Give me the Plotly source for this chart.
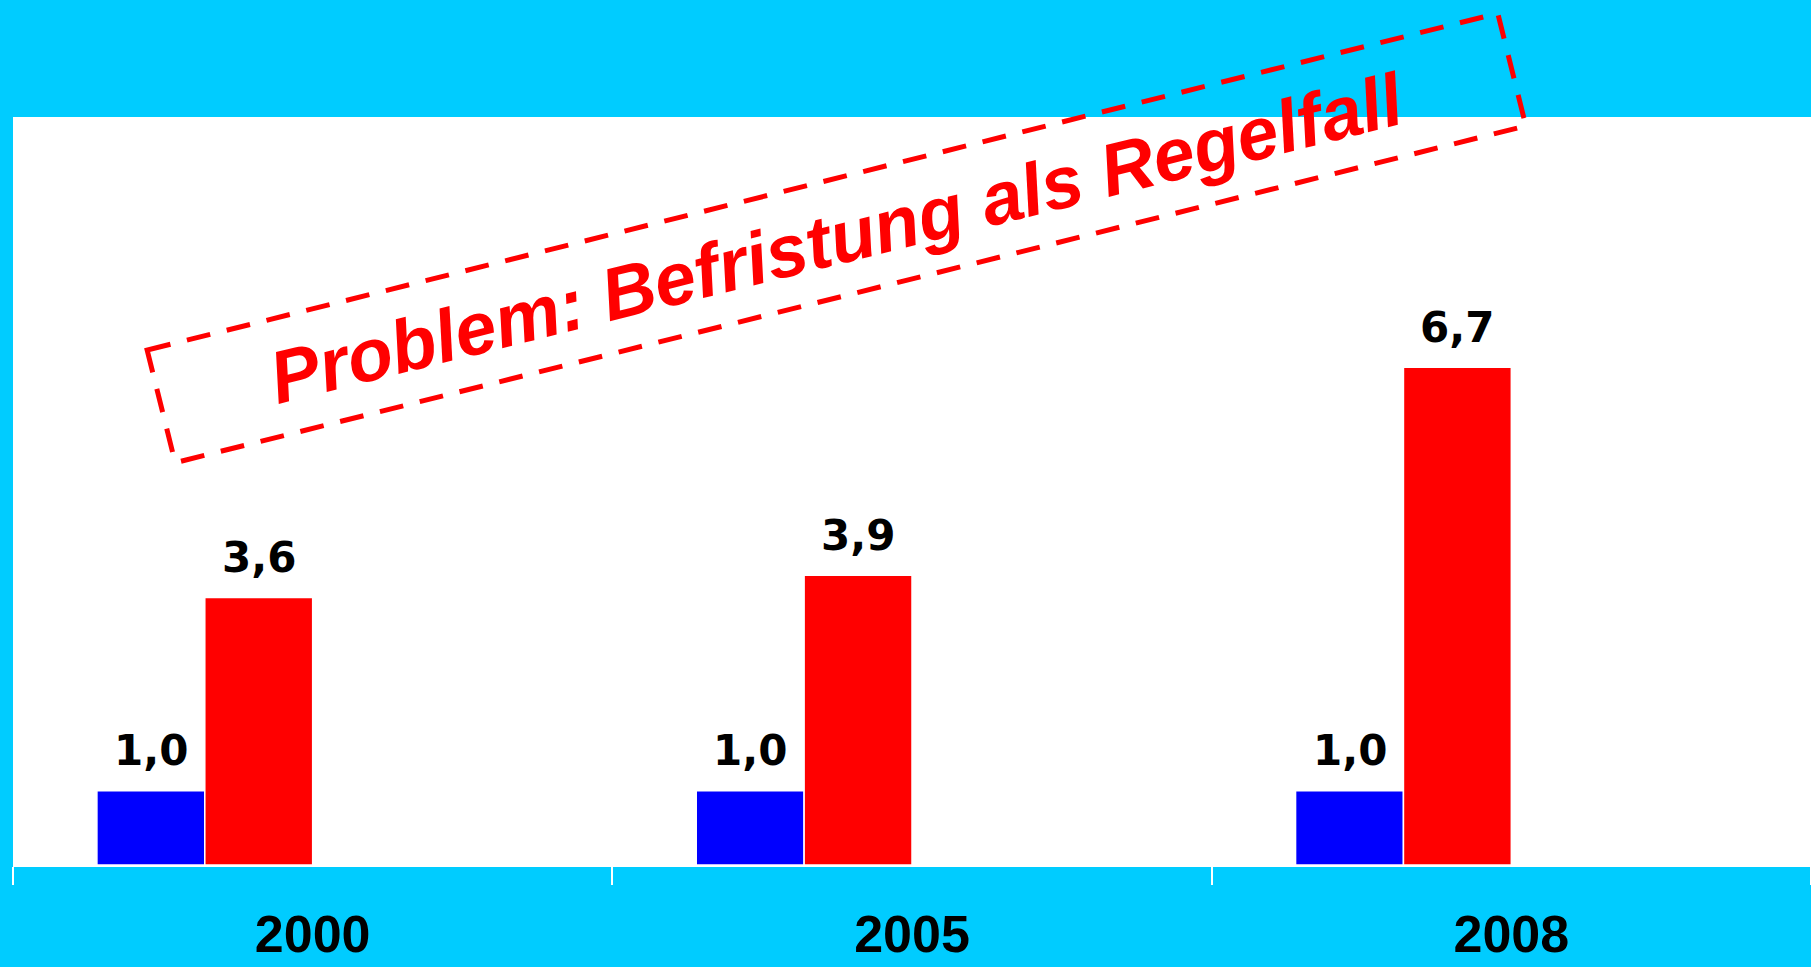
import math
import plotly.graph_objects as go

# data
years = ["2000", "2005", "2008"]
blue_vals = [1.0, 1.0, 1.0]
red_vals = [3.6, 3.9, 6.7]
headline = "Problem: Befristung als Regelfall"

CYAN = "#00CCFF"
BLUE = "#0000FF"
RED = "#FF0000"

W, H = 1811, 967
L_M, T_M, B_M = 13, 117, 102
PLOT_W = W - L_M
PLOT_H = H - T_M - B_M

BAR_W = 0.18
OFFSETS = [-0.36, -0.18]


def fmt(v):
    return f"{v:.1f}".replace(".", ",")


def to_paper(px, py):
    return (px - L_M) / PLOT_W, (H - B_M - py) / PLOT_H


fig = go.Figure()
for vals, color, off in [(blue_vals, BLUE, OFFSETS[0]), (red_vals, RED, OFFSETS[1])]:
    fig.add_trace(go.Bar(
        x=years, y=vals,
        width=BAR_W, offset=off,
        marker=dict(color=color, line=dict(color="white", width=1.5)),
        hoverinfo="skip"))

# value labels above bars
for i in range(len(years)):
    for vals, off in [(blue_vals, OFFSETS[0]), (red_vals, OFFSETS[1])]:
        fig.add_annotation(
            x=i + off + BAR_W / 2, y=vals[i], xref="x", yref="y",
            text=fmt(vals[i]), showarrow=False,
            yanchor="middle", yshift=40,
            font=dict(family="DejaVu Sans", size=42, color="black", weight="bold"))

# rotated dashed box with headline
cx, cy = 836.5, 238
box_len, box_h, ang = 1392, 116, math.radians(14)
dx, dy = math.cos(ang), -math.sin(ang)
nx, ny = math.sin(ang), math.cos(ang)
corners = []
for sl, sh in [(-1, -1), (1, -1), (1, 1), (-1, 1)]:
    px = cx + sl * dx * box_len / 2 + sh * nx * box_h / 2
    py = cy + sl * dy * box_len / 2 + sh * ny * box_h / 2
    corners.append(to_paper(px, py))
path = "M " + " L ".join(f"{x:.5f},{y:.5f}" for x, y in corners) + " Z"
fig.add_shape(type="path", path=path, xref="paper", yref="paper",
              line=dict(color=RED, width=5, dash="24px,17px"), layer="above")

hx, hy = to_paper(cx, cy)
fig.add_annotation(
    x=hx, y=hy, xref="paper", yref="paper",
    text=headline, showarrow=False,
    textangle=-14, xanchor="center", yanchor="middle",
    font=dict(family="Liberation Sans", size=74, color=RED,
              weight="bold", style="italic"))

fig.update_layout(
    width=W, height=H,
    margin=dict(l=L_M, r=0, t=T_M, b=B_M, autoexpand=False),
    paper_bgcolor=CYAN, plot_bgcolor="white",
    barmode="overlay", showlegend=False,
    xaxis=dict(
        type="category", tickson="boundaries",
        ticks="outside", ticklen=18, tickwidth=2, tickcolor="white",
        showline=True, linecolor="white", linewidth=2,
        showgrid=False, zeroline=False,
        ticklabelstandoff=23,
        tickfont=dict(family="Liberation Sans", size=52, color="black",
                      weight="bold")),
    yaxis=dict(range=[0, 10.07], visible=False, showgrid=False, zeroline=False))

fig.write_html("out.html", config={"displayModeBar": False},
               post_script="document.body.style.margin='0';")
